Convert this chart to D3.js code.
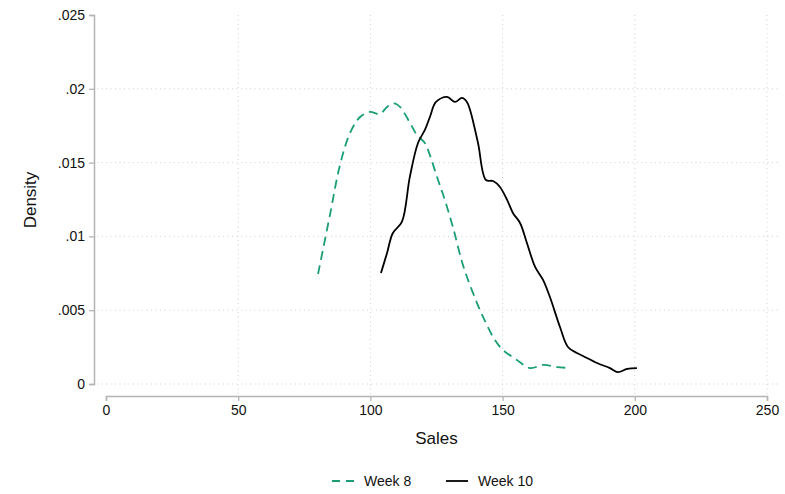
<!DOCTYPE html>
<html>
<head>
<meta charset="utf-8">
<script src="https://cdn.jsdelivr.net/npm/d3@7"></script>
<style>
  body { margin: 0; background: #fff; }
  text { font-family: "Liberation Sans", Arial, sans-serif; fill: #111; }
</style>
</head>
<body>
<div id="chart"></div>
<script>
// Kernel density traces
var week8Sales = [80.2, 84.7, 88.5, 92.3, 96.1, 99.8, 103.6, 106.3, 108.9, 111.2, 115.0, 117.6, 120.6, 122.5, 125.2, 127.8, 131.2, 135.0, 138.8, 142.6, 147.1, 150.2, 155.4, 160.4, 165.3, 170.6, 175.5];
var week8Density = [0.00745, 0.01145, 0.01484, 0.01701, 0.01809, 0.01843, 0.01829, 0.01877, 0.01901, 0.01877, 0.01768, 0.01687, 0.01633, 0.01551, 0.01402, 0.01267, 0.01064, 0.00806, 0.00617, 0.00454, 0.00298, 0.00230, 0.00163, 0.00108, 0.00129, 0.00115, 0.00108];

var week10Sales = [104.0, 106.3, 108.5, 111.9, 114.9, 118.0, 120.6, 122.5, 124.8, 129.0, 132.0, 134.6, 136.5, 137.7, 140.7, 143.7, 146.4, 149.0, 151.7, 153.9, 156.6, 159.2, 162.3, 165.3, 167.9, 171.7, 174.7, 178.1, 180.4, 185.7, 190.6, 193.6, 197.1, 200.8];
var week10Density = [0.00752, 0.00888, 0.01023, 0.01098, 0.01402, 0.01633, 0.01721, 0.01809, 0.01911, 0.01945, 0.01911, 0.01938, 0.01911, 0.01856, 0.01633, 0.01382, 0.01375, 0.01335, 0.01247, 0.01159, 0.01091, 0.00955, 0.00793, 0.00705, 0.00589, 0.00386, 0.00251, 0.00210, 0.00190, 0.00142, 0.00108, 0.00081, 0.00102, 0.00108];

var xTicks = [0, 50, 100, 150, 200, 250];
var yTicks = [0, 0.005, 0.01, 0.015, 0.02, 0.025];
var seriesNames = ["Week 8", "Week 10"];

var width = 785, height = 494;
var axisColor = "#b4b4b4";
var gridColor = "#cfcfcf";
var greenColor = "#1a9e77";

var svg = d3.select("#chart").append("svg")
    .attr("width", width)
    .attr("height", height);

var x = d3.scaleLinear().domain([0, 250]).range([106, 767]);
var y = d3.scaleLinear().domain([0, 0.025]).range([384, 15]);

// grid lines
svg.selectAll(".hgrid").data(yTicks.filter(function(d) { return d < 0.024; }))
  .enter().append("line")
    .attr("x1", 97).attr("x2", 781)
    .attr("y1", function(d) { return y(d); })
    .attr("y2", function(d) { return y(d); })
    .attr("stroke", gridColor)
    .attr("stroke-width", 1)
    .attr("stroke-dasharray", "1,3.5");

svg.selectAll(".vgrid").data(xTicks.filter(function(d) { return d > 0; }))
  .enter().append("line")
    .attr("x1", function(d) { return x(d); })
    .attr("x2", function(d) { return x(d); })
    .attr("y1", 15).attr("y2", 394)
    .attr("stroke", gridColor)
    .attr("stroke-width", 1)
    .attr("stroke-dasharray", "1,3.5");

// y axis
var yAxis = d3.axisLeft(y)
    .tickValues(yTicks)
    .tickSize(5)
    .tickPadding(4)
    .tickFormat(function(d) { return d === 0 ? "0" : d3.format("")(+d.toFixed(3)).replace(/^0/, ""); });

var gy = svg.append("g").attr("transform", "translate(94,0)").call(yAxis);

// x axis
var xAxis = d3.axisBottom(x)
    .tickValues(xTicks)
    .tickSize(5)
    .tickPadding(4);

var gx = svg.append("g").attr("transform", "translate(0,396)").call(xAxis);

[gx, gy].forEach(function(g) {
    g.select(".domain").attr("stroke", axisColor).attr("stroke-width", 1.5);
    g.selectAll(".tick line").attr("stroke", axisColor).attr("stroke-width", 1.3);
    g.selectAll(".tick text")
        .style("font-family", "'Liberation Sans', Arial, sans-serif")
        .style("font-size", "14px")
        .attr("fill", "#111");
});

// axis titles
svg.append("text")
    .attr("x", x(125)).attr("y", 444)
    .attr("text-anchor", "middle")
    .style("font-size", "17px")
    .text("Sales");

svg.append("text")
    .attr("transform", "translate(36,200) rotate(-90)")
    .attr("text-anchor", "middle")
    .style("font-size", "17px")
    .text("Density");

// density lines
var line = d3.line()
    .x(function(d) { return x(d[0]); })
    .y(function(d) { return y(d[1]); })
    .curve(d3.curveCatmullRom.alpha(0.5));

var week8 = week8Sales.map(function(s, i) { return [s, week8Density[i]]; });
var week10 = week10Sales.map(function(s, i) { return [s, week10Density[i]]; });

svg.append("path")
    .datum(week8)
    .attr("d", line)
    .attr("fill", "none")
    .attr("stroke", greenColor)
    .attr("stroke-width", 1.8)
    .attr("stroke-dasharray", "9,5.5");

svg.append("path")
    .datum(week10)
    .attr("d", line)
    .attr("fill", "none")
    .attr("stroke", "#000")
    .attr("stroke-width", 1.8);

// legend
var legend = svg.append("g").attr("transform", "translate(0,481)");

legend.append("line")
    .attr("x1", 332).attr("x2", 355)
    .attr("y1", 0).attr("y2", 0)
    .attr("stroke", greenColor)
    .attr("stroke-width", 1.8)
    .attr("stroke-dasharray", "8,6");

legend.append("text")
    .attr("x", 364).attr("y", 5)
    .style("font-size", "14px")
    .text(seriesNames[0]);

legend.append("line")
    .attr("x1", 446).attr("x2", 468)
    .attr("y1", 0).attr("y2", 0)
    .attr("stroke", "#000")
    .attr("stroke-width", 1.8);

legend.append("text")
    .attr("x", 478).attr("y", 5)
    .style("font-size", "14px")
    .text(seriesNames[1]);
</script>
</body>
</html>
